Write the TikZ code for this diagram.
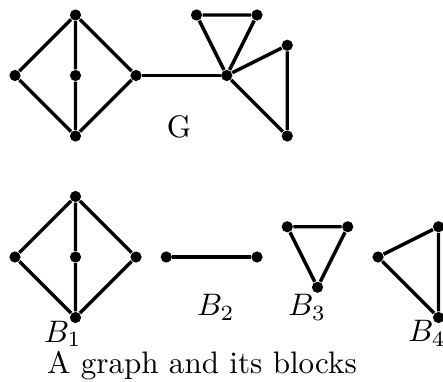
\documentclass[tikz,border=0pt]{standalone}
\begin{document}
\begin{tikzpicture}[x=0.684cm,y=-0.684cm,
  vtx/.style={circle,fill=black,inner sep=0pt,minimum size=3.6pt},
  edge/.style={line width=1.1pt},
  lbl/.style={inner sep=0pt}]
\useasboundingbox (-0.248,-0.248) rectangle (7.074,6.05);
% top graph G
\node[vtx] (a1) at (1,0) {};
\node[vtx] (a2) at (0,1) {};
\node[vtx] (a3) at (1,1) {};
\node[vtx] (a4) at (2,1) {};
\node[vtx] (a5) at (1,2) {};
\node[vtx] (c) at (3.5,1) {};
\node[vtx] (t1) at (3,0) {};
\node[vtx] (t2) at (4,0) {};
\node[vtx] (r1) at (4.5,0.5) {};
\node[vtx] (r2) at (4.5,2) {};
\draw[edge] (a1)--(a2)--(a5)--(a4)--(a1)--(a3)--(a5);
\draw[edge] (a4)--(c);
\draw[edge] (c)--(t1)--(t2)--(c);
\draw[edge] (c)--(r1)--(r2)--(c);
\node[lbl] (G) at (2.71,1.85) {G};
% blocks
\node[vtx] (b1) at (1,3) {};
\node[vtx] (b2) at (0,4) {};
\node[vtx] (b3) at (1,4) {};
\node[vtx] (b4) at (2,4) {};
\node[vtx] (b5) at (1,5) {};
\draw[edge] (b1)--(b2)--(b5)--(b4)--(b1)--(b3)--(b5);
\node[vtx] (e1) at (2.5,4) {};
\node[vtx] (e2) at (4,4) {};
\draw[edge] (e1)--(e2);
\node[vtx] (d1) at (4.5,3.5) {};
\node[vtx] (d2) at (5.5,3.5) {};
\node[vtx] (d3) at (5,4.5) {};
\draw[edge] (d1)--(d2)--(d3)--(d1);
\node[vtx] (f1) at (6,4) {};
\node[vtx] (f2) at (7,3.5) {};
\node[vtx] (f3) at (7,5) {};
\draw[edge] (f1)--(f2)--(f3)--(f1);
\node[lbl] (B1) at (0.79,5.27) {$B_1$};
\node[lbl] (B2) at (3.32,4.83) {$B_2$};
\node[lbl] (B3) at (4.83,4.83) {$B_3$};
\node[lbl] (B4) at (6.81,5.26) {$B_4$};
\node[lbl,anchor=base] (cap) at (3.09,5.93) {A graph and its blocks};
\end{tikzpicture}
\end{document}
